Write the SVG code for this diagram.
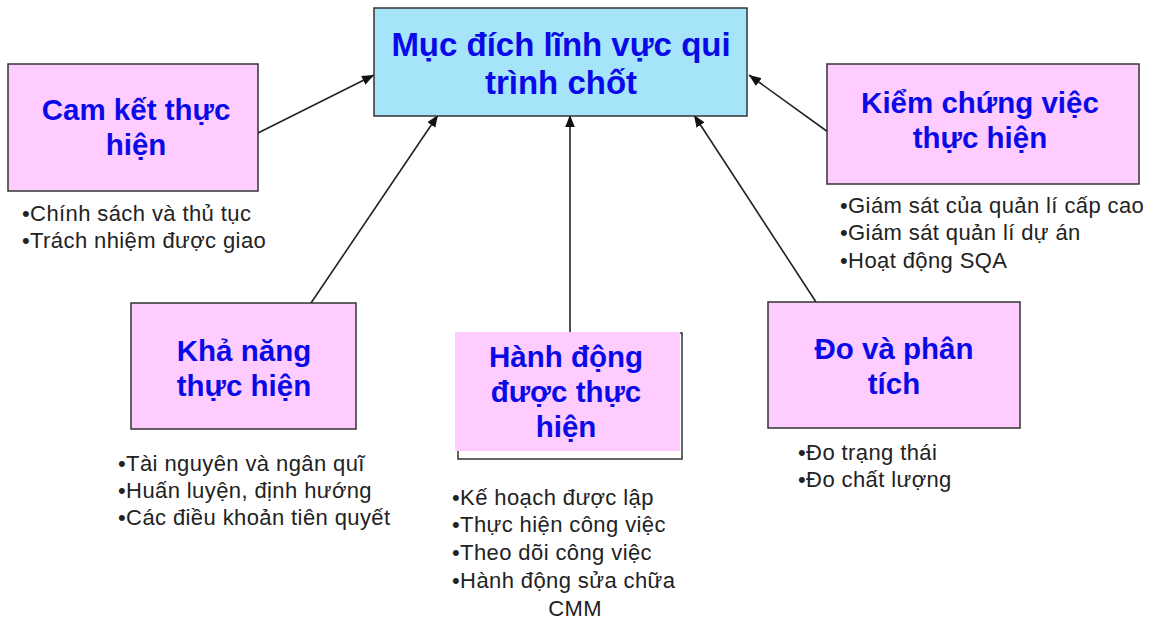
<svg xmlns="http://www.w3.org/2000/svg" width="1154" height="621" viewBox="0 0 1154 621">
<defs>
<marker id="arr" viewBox="0 0 10 8" refX="10" refY="4" markerWidth="12" markerHeight="10" markerUnits="userSpaceOnUse" orient="auto">
<path d="M0,0 L10,4 L0,8 Z" fill="#111"/>
</marker>
<style>
.box{fill:#ffccff;stroke:#333;stroke-width:1.5}
.main{fill:#a6e4fa;stroke:#333;stroke-width:1.5}
.title{font-family:"Liberation Sans",Arial,sans-serif;font-weight:bold;font-size:29.5px;fill:#0a0ae8;text-anchor:middle}
.mtitle{font-size:33px}
.bul{font-family:"Liberation Sans",Arial,sans-serif;font-size:22px;letter-spacing:0.4px;fill:#222}
.conn{stroke:#222;stroke-width:1.6;fill:none;marker-end:url(#arr)}
</style>
</defs>
<rect width="1154" height="621" fill="#fff"/>
<g id="connectors">
<line class="conn" x1="258" y1="133" x2="374" y2="75"/>
<line class="conn" x1="311" y1="303" x2="438" y2="115"/>
<line class="conn" x1="570" y1="332" x2="570" y2="115"/>
<line class="conn" x1="816" y1="302" x2="694" y2="115"/>
<line class="conn" x1="828" y1="132" x2="749" y2="75"/>
</g>
<g id="main">
<rect class="main" x="374" y="8" width="373" height="108"/>
<text class="title mtitle" x="561" y="56">Mục đích lĩnh vực qui</text>
<text class="title mtitle" x="561" y="94">trình chốt</text>
</g>
<g id="cam-ket">
<rect class="box" x="8" y="64" width="250" height="127"/>
<text class="title" x="136" y="120">Cam kết thực</text>
<text class="title" x="136" y="155">hiện</text>
<text class="bul" x="22" y="221">•Chính sách và thủ tục</text>
<text class="bul" x="22" y="248">•Trách nhiệm được giao</text>
</g>
<g id="kiem-chung">
<rect class="box" x="827" y="64" width="312" height="120"/>
<text class="title" x="980" y="113">Kiểm chứng việc</text>
<text class="title" x="980" y="148">thực hiện</text>
<text class="bul" x="840" y="213">•Giám sát của quản lí cấp cao</text>
<text class="bul" x="840" y="240">•Giám sát quản lí dự án</text>
<text class="bul" x="840" y="268">•Hoạt động SQA</text>
</g>
<g id="kha-nang">
<rect class="box" x="131" y="303" width="225" height="126"/>
<text class="title" x="244" y="361">Khả năng</text>
<text class="title" x="244" y="396">thực hiện</text>
<text class="bul" x="118" y="471">•Tài nguyên và ngân quĩ</text>
<text class="bul" x="118" y="498">•Huấn luyện, định hướng</text>
<text class="bul" x="118" y="525">•Các điều khoản tiên quyết</text>
</g>
<g id="hanh-dong">
<rect x="458" y="333" width="224" height="126" fill="none" stroke="#333" stroke-width="1.5"/>
<rect x="455" y="332" width="225" height="119" fill="#ffccff"/>
<text class="title" x="566" y="367">Hành động</text>
<text class="title" x="566" y="402">được thực</text>
<text class="title" x="566" y="437">hiện</text>
<text class="bul" x="452" y="505">•Kế hoạch được lập</text>
<text class="bul" x="452" y="532">•Thực hiện công việc</text>
<text class="bul" x="452" y="560">•Theo dõi công việc</text>
<text class="bul" x="452" y="588">•Hành động sửa chữa</text>
<text class="bul" x="575" y="616" text-anchor="middle">CMM</text>
</g>
<g id="do-phan-tich">
<rect class="box" x="768" y="302" width="252" height="126"/>
<text class="title" x="894" y="359">Đo và phân</text>
<text class="title" x="894" y="394">tích</text>
<text class="bul" x="798" y="460">•Đo trạng thái</text>
<text class="bul" x="798" y="487">•Đo chất lượng</text>
</g>
</svg>
